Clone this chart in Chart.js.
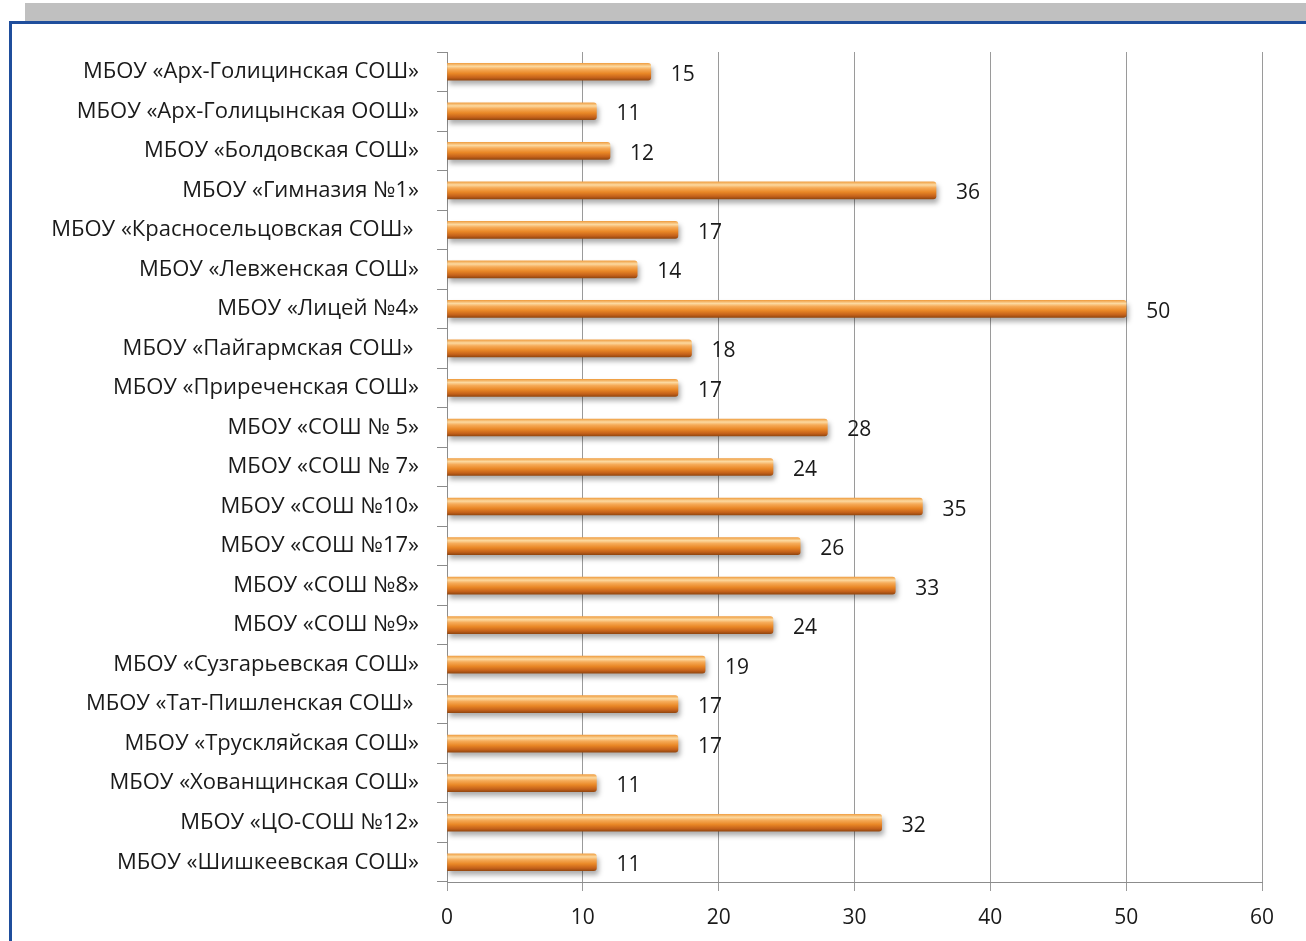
<!DOCTYPE html>
<html>
<head>
<meta charset="utf-8">
<script src="https://cdn.jsdelivr.net/npm/chart.js@4"></script>
<style>
    html, body { margin: 0; padding: 0; background: #fff; }
    body { width: 1306px; height: 941px; position: relative; overflow: hidden; }
    #strip { position: absolute; left: 25px; top: 3px; width: 1281px; height: 18px; background: #c0c0c0; }
    #frame { position: absolute; left: 9px; top: 21px; width: 1294px; height: 930px;
             border-top: 3px solid #1f4e9c; border-left: 3px solid #1f4e9c; border-right: 2px solid #9a9a9a; }
    #wrap { position: absolute; left: 0; top: 0; width: 1306px; height: 941px; }
</style>
</head>
<body>
<div id="strip"></div>
<div id="frame"></div>
<div id="wrap"><canvas id="barChart"></canvas></div>

<script>
/* ==========================================
   Данные
========================================== */

const schools = [
    "МБОУ «Арх-Голицинская СОШ»",
    "МБОУ «Арх-Голицынская ООШ»",
    "МБОУ «Болдовская СОШ»",
    "МБОУ «Гимназия №1»",
    "МБОУ «Красносельцовская СОШ» ",
    "МБОУ «Левженская СОШ»",
    "МБОУ «Лицей №4»",
    "МБОУ «Пайгармская СОШ» ",
    "МБОУ «Приреченская СОШ»",
    "МБОУ «СОШ № 5»",
    "МБОУ «СОШ № 7»",
    "МБОУ «СОШ №10»",
    "МБОУ «СОШ №17»",
    "МБОУ «СОШ №8»",
    "МБОУ «СОШ №9»",
    "МБОУ «Сузгарьевская СОШ»",
    "МБОУ «Тат-Пишленская СОШ» ",
    "МБОУ «Трускляйская СОШ»",
    "МБОУ «Хованщинская СОШ»",
    "МБОУ «ЦО-СОШ №12»",
    "МБОУ «Шишкеевская СОШ»"
];

const counts = [15, 11, 12, 36, 17, 14, 50, 18, 17, 28, 24, 35, 26, 33, 24, 19, 17, 17, 11, 32, 11];

const xTicks = [0, 10, 20, 30, 40, 50, 60];

const FONT = "'Open Sans', 'DejaVu Sans', sans-serif";
const BAR_H = 17;

// градиент для каждой полосы
function barGradient(context) {
    const chart = context.chart;
    const yScale = chart.scales.y;
    if (!yScale) return "#ee9330";
    const cy = yScale.getPixelForValue(context.dataIndex);
    if (!isFinite(cy)) return "#ee9330";
    const g = chart.ctx.createLinearGradient(0, cy - BAR_H / 2, 0, cy + BAR_H / 2);
    g.addColorStop(0, "#f0a045");
    g.addColorStop(0.18, "#fcd9a0");
    g.addColorStop(0.35, "#f6ab58");
    g.addColorStop(0.6, "#e98726");
    g.addColorStop(0.85, "#c4611a");
    g.addColorStop(1, "#954810");
    return g;
}

// тень под полосами
const shadowPlugin = {
    id: "barShadow",
    beforeDatasetsDraw(chart) {
        const ctx = chart.ctx;
        ctx.save();
        ctx.shadowColor = "rgba(0,0,0,0.32)";
        ctx.shadowBlur = 5;
        ctx.shadowOffsetX = 2;
        ctx.shadowOffsetY = 4;
    },
    afterDatasetsDraw(chart) {
        chart.ctx.restore();
    }
};

// подписи значений
const valueLabels = {
    id: "valueLabels",
    afterDatasetsDraw(chart) {
        const ctx = chart.ctx;
        const meta = chart.getDatasetMeta(0);
        ctx.save();
        ctx.font = "21px " + FONT;
        ctx.fillStyle = "#1a1a1a";
        ctx.textAlign = "left";
        ctx.textBaseline = "middle";
        meta.data.forEach((bar, i) => {
            ctx.fillText(String(counts[i]), bar.x + 20, bar.y + 3);
        });
        ctx.restore();
    }
};

new Chart(document.getElementById("barChart"), {

    type: "bar",

    data: {
        labels: schools,
        datasets: [{
            data: counts,
            backgroundColor: barGradient,
            borderWidth: 0,
            barThickness: BAR_H,
            borderRadius: { topLeft: 0, bottomLeft: 0, topRight: 3, bottomRight: 3 }
        }]
    },

    options: {
        indexAxis: "y",
        responsive: true,
        maintainAspectRatio: false,
        animation: false,
        layout: {
            padding: { left: 20, right: 44, top: 52, bottom: 0 }
        },
        plugins: {
            legend: { display: false },
            tooltip: { enabled: false }
        },
        scales: {
            x: {
                min: 0,
                max: 60,
                afterBuildTicks(scale) {
                    scale.ticks = xTicks.map(v => ({ value: v }));
                },
                afterFit(scale) {
                    scale.height = 59;
                },
                border: { display: true, color: "#8c8c8c", width: 1 },
                grid: {
                    color: "#9a9a9a",
                    lineWidth: 1,
                    tickLength: 9,
                    drawOnChartArea: true
                },
                ticks: {
                    color: "#1a1a1a",
                    padding: 14,
                    font: { family: FONT, size: 21 }
                }
            },
            y: {
                afterFit(scale) {
                    scale.width = 427;
                },
                border: { display: true, color: "#8c8c8c", width: 1 },
                grid: {
                    offset: true,
                    color: "#8c8c8c",
                    drawOnChartArea: false,
                    tickLength: 10
                },
                ticks: {
                    color: "#1a1a1a",
                    padding: 18,
                    autoSkip: false,
                    font: { family: FONT, size: 22 }
                }
            }
        }
    },

    plugins: [shadowPlugin, valueLabels]

});
</script>
</body>
</html>
